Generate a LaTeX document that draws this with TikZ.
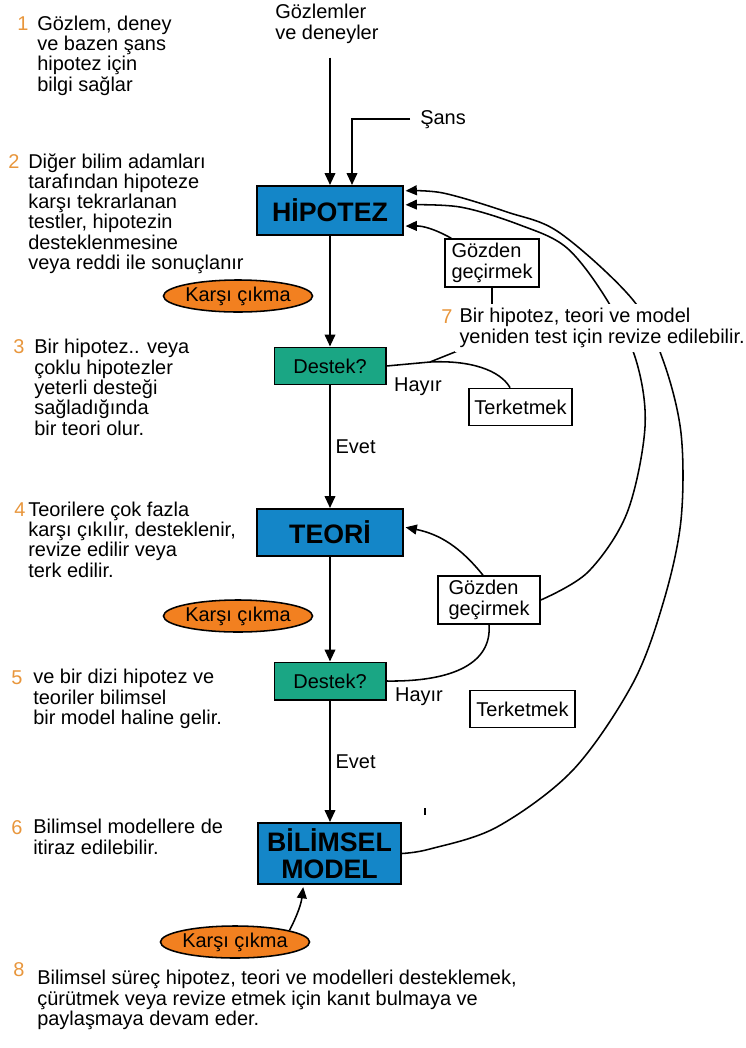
\documentclass[tikz,border=0pt]{standalone}
\usepackage{fontspec}
\setmainfont{Liberation Sans}
\usetikzlibrary{arrows.meta,shapes.geometric}

\definecolor{boxblue}{RGB}{20,134,200}
\definecolor{boxteal}{RGB}{26,166,132}
\definecolor{ovalorange}{RGB}{242,128,32}
\definecolor{steporange}{RGB}{232,150,60}

\newcommand{\txtsize}{\fontsize{14.2}{14.45}\selectfont}
\newcommand{\bigsize}{\fontsize{19}{19.5}\selectfont\bfseries}

\begin{document}
\begin{tikzpicture}[x=0.025cm, y=-0.025cm,
    note/.style={anchor=base west, inner sep=0pt, align=left, font=\txtsize},
    stepnum/.style={anchor=base west, inner sep=0pt, text=steporange, font=\txtsize},
    mainbox/.style={draw, line width=1.4pt, fill=boxblue, inner sep=0pt,
        minimum width=3.625cm, align=center, font=\bigsize},
    askbox/.style={draw, line width=1.4pt, fill=boxteal, inner sep=0pt,
        minimum width=2.775cm, minimum height=0.925cm, font=\txtsize},
    plainbox/.style={draw, line width=1.1pt, fill=white, inner sep=0pt,
        minimum height=0.925cm, align=left, font=\txtsize},
    oval/.style={ellipse, draw, line width=1.1pt, fill=ovalorange, inner sep=0pt,
        minimum width=3.175cm, minimum height=0.8cm, font=\txtsize},
    flow/.style={line width=1.4pt, -{Triangle[length=8.5pt,width=7.5pt]}},
    back/.style={line width=1.1pt, shorten >=1.5pt, -{Triangle[length=8pt,width=7pt]}},
    link/.style={line width=1.1pt},
]
    % Page
    \useasboundingbox (0,0) rectangle (745,1048);

    % Main boxes
    \node[mainbox, minimum height=1.225cm] (hip) at (330,210.5) {HİPOTEZ};
    \node[mainbox, minimum height=1.175cm] (teo) at (330,532.5) {TEORİ};
    \node[mainbox, minimum width=3.55cm, minimum height=1.525cm] (mod) at (329.5,853.5) {BİLİMSEL\\MODEL};

    % Support questions
    \node[askbox] (des1) at (330,366) {Destek?};
    \node[askbox] (des2) at (330,681) {Destek?};

    % Revise / abandon boxes
    \node[plainbox, minimum width=2.35cm, minimum height=1.2cm] (goz1) at (492,263) {Gözden\\geçirmek};
    \node[plainbox, minimum width=2.55cm, minimum height=1.2cm] (goz2) at (489,600) {Gözden\\geçirmek};
    \node[plainbox, minimum width=2.575cm] (ter1) at (520.5,407) {Terketmek};
    \node[plainbox, minimum width=2.625cm] (ter2) at (522.5,709) {Terketmek};

    % Challenge ovals
    \node[oval] (kar1) at (238,296) {Karşı çıkma};
    \node[oval] (kar2) at (238,616) {Karşı çıkma};
    \node[oval] (kar3) at (235,942) {Karşı çıkma};

    % Inputs (multi-line notes sit on the baseline of their last line)
    \node[note] (obs) at (275,39.3) {Gözlemler\\ve deneyler};
    \node[note] (sans) at (420,124) {Şans};

    % Step notes
    % -- left side
    \node[stepnum] (n1) at (17,30) {1};
    \node[note] (t1) at (37,91) {Gözlem, deney\\ve bazen şans\\hipotez için\\bilgi sağlar};
    \node[stepnum] (n2) at (8,168) {2};
    \node[note] (t2) at (28,269.6) {Diğer bilim adamları\\tarafından hipoteze\\karşı tekrarlanan\\testler, hipotezin\\desteklenmesine\\veya reddi ile sonuçlanır};
    \node[stepnum] (n3) at (13,353) {3};
    \node[note] (t3) at (34,435.2) {Bir hipotez.. veya\\çoklu hipotezler\\yeterli desteği\\sağladığında\\bir teori olur.};
    \node[stepnum] (n4) at (14,516) {4};
    \node[note] (t4) at (28,577) {Teorilere çok fazla\\karşı çıkılır, desteklenir,\\revize edilir veya\\terk edilir.};
    \node[stepnum] (n5) at (11,684) {5};
    \node[note] (t5) at (33,724.6) {ve bir dizi hipotez ve\\teoriler bilimsel\\bir model haline gelir.};
    \node[stepnum] (n6) at (11,834) {6};
    \node[note] (t6) at (33,854.3) {Bilimsel modellere de\\itiraz edilebilir.};
    % -- bottom
    \node[stepnum] (n8) at (13,976) {8};
    \node[note] (t8) at (37,1025.6) {Bilimsel süreç hipotez, teori ve modelleri desteklemek,\\çürütmek veya revize etmek için kanıt bulmaya ve\\paylaşmaya devam eder.};

    % Main flow
    \draw[flow, shorten <=0.35cm] (obs.south -| hip.north) -- (hip.north);
    \draw[flow] ([xshift=-0.25cm]sans.west) -| ([xshift=0.55cm]hip.north);
    \draw[flow] (hip.south) -- (des1.north);
    \draw[flow] (des1.south) -- node[right, font=\txtsize] (evet1) {Evet} (teo.north);
    \draw[flow] (teo.south) -- (des2.north);
    \draw[flow] (des2.south) -- node[right, font=\txtsize] (evet2) {Evet} (mod.north -| des2.south);

    % No branches
    \coordinate (split1) at (430,362);
    \draw[link] (des1.east) -- (split1) -- (460,350) -- (goz1.south |- 0,330) -- (goz1.south);
    \draw[link] (split1) .. controls (470,360) and (500,370) .. ([xshift=-0.26cm]ter1.north);
    \node[font=\txtsize] (hay1) at (418,387) {Hayır};
    \draw[link] (des2.east) .. controls (455,682) and (492,662) .. (goz2.south);
    \node[font=\txtsize] (hay2) at (419,697) {Hayır};

    % Revision loops
    \draw[back] ([xshift=0.175cm]goz1.north west) to[bend right=15] ([yshift=-0.39cm]hip.east);
    \draw[back] ([xshift=-0.15cm]goz2.north) to[bend right=20] ([yshift=0.14cm]teo.east);
    \draw[back] plot[smooth, tension=0.55] coordinates {(goz2.east) (588,572) (627,513) (645,427) (636,360) (607,300) (567,248) (520,225) (460,207) ([yshift=0.14cm]hip.east)};
    \draw[back] plot[smooth, tension=0.55] coordinates {(mod.east) (430,849) (497,827) (573,770) (633,683) (664,600) (681,520) (681,433) (663,360) (633,300) (560,233) (507,212) (443,193) ([yshift=0.49cm]hip.east)};
    \draw[back] (kar3.12) to[bend right=10] ([xshift=-0.65cm]mod.south);
    \draw[line width=1pt] (425,808) -- (425,815);

    % -- right side note, over the loops
    \node[note, fill=white, inner sep=3pt] (t7) at (455,343.3) {Bir hipotez, teori ve model\\yeniden test için revize edilebilir.};
    \node[stepnum] (n7) at (441,323) {7};
\end{tikzpicture}
\end{document}
